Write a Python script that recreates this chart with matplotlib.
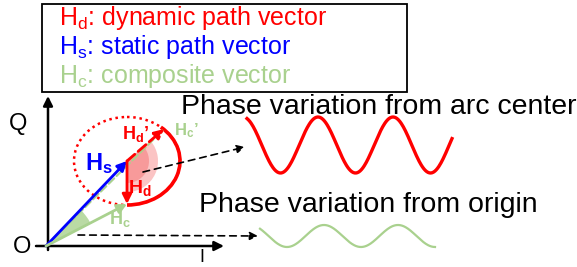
import numpy as np
import matplotlib.pyplot as plt
from matplotlib.patches import Ellipse, Arc, Wedge, Rectangle

plt.rcParams.update({
    'font.family': ['Liberation Sans', 'DejaVu Sans'],
    'mathtext.fontset': 'custom',
    'mathtext.rm': 'Liberation Sans',
    'mathtext.it': 'Liberation Sans',
    'mathtext.bf': 'Liberation Sans:bold',
})

RED = '#ff0000'
BLUE = '#0000ff'
GREEN = '#a9d18e'

# key points of the diagram (pixel space, y down)
origin = (46, 246)
arc_center = (127, 161)
hd_end = (127, 204)
hd2_end = (164, 129)
circle_size = (106, 88)

# legend lines
legend_labels = [r'H$_\mathrm{d}$: dynamic path vector',
                 r'H$_\mathrm{s}$: static path vector',
                 r'H$_\mathrm{c}$: composite vector']
legend_colors = [RED, BLUE, GREEN]

# sketch waves: start, end, period, amplitude, centre line, position of a peak
red_wave = dict(x0=247, x1=452, period=75, amp=28, yc=145, peak=243)
green_wave = dict(x0=260, x1=435, period=74, amp=11, yc=236, peak=250)

fig = plt.figure(figsize=(5.77, 2.67), dpi=100)
ax = fig.add_axes([0, 0, 1, 1])
ax.set_xlim(0, 577)
ax.set_ylim(267, 0)
ax.axis('off')


def arrow(p0, p1, color, lw=2, ls='-', scale=14):
    ax.annotate('', xy=p1, xytext=p0,
                arrowprops=dict(arrowstyle='-|>', color=color, lw=lw, linestyle=ls,
                                shrinkA=0, shrinkB=0, mutation_scale=scale))


# legend box
ax.add_patch(Rectangle((42, 4), 365, 88, fill=False, ec='black', lw=1.3))
for i, (lab, col) in enumerate(zip(legend_labels, legend_colors)):
    ax.text(59, 18 + 29 * i, lab, color=col, fontsize=18, va='center', ha='left')

# I/Q axes
arrow((48, 250), (48, 96), 'black', lw=1.8)
arrow((36, 246), (224, 246), 'black', lw=1.8)
ax.text(18, 124, 'Q', fontsize=17, ha='center', va='center')
ax.text(22, 247, 'O', fontsize=17, ha='center', va='center')
ax.text(202, 249, 'I', fontsize=13, ha='center', va='top')

# angle wedges
def ang(p, q):
    return np.degrees(np.arctan2(q[1] - p[1], q[0] - p[0]))

ax.add_patch(Wedge(origin, 50, ang(origin, arc_center), ang(origin, hd_end),
                   fc=GREEN, ec='none', alpha=0.8))
ax.add_patch(Wedge(arc_center, 31, ang(arc_center, hd2_end), ang(arc_center, hd_end),
                   fc='#fbc4c4', ec='none'))
ax.add_patch(Wedge(arc_center, 22, ang(arc_center, hd2_end), ang(arc_center, hd_end),
                   fc='#f79a9a', ec='none'))

# circle of dynamic path
ax.add_patch(Ellipse(arc_center, *circle_size, fill=False, ec=RED, lw=1.8, ls=(0, (1, 1.5))))
ax.add_patch(Arc(arc_center, *circle_size, theta1=-45, theta2=90, color=RED, lw=2.6))

# vectors
arrow(origin, hd2_end, GREEN, lw=1.5, ls='--', scale=1)
arrow(origin, arc_center, BLUE, lw=2)
arrow(origin, hd_end, GREEN, lw=2)
arrow(arc_center, hd_end, RED, lw=2)
arrow(arc_center, hd2_end, RED, lw=2, ls='--')

ax.text(99, 164, r'$\mathbf{H_s}$', color=BLUE, fontsize=17, ha='center', va='center')
ax.text(140, 188, r'$\mathbf{H_d}$', color=RED, fontsize=14, ha='center', va='center')
ax.text(136, 134, r'$\mathbf{H_d}$’', color=RED, fontsize=13, fontweight='bold', ha='center', va='center')
ax.text(186, 131, r'$\mathbf{H_c}$’', color=GREEN, fontsize=12, fontweight='bold', ha='center', va='center')
ax.text(120, 219, r'$\mathbf{H_c}$', color=GREEN, fontsize=13, ha='center', va='center')

# dashed projection arrows
arrow((143, 172), (245, 147), 'black', lw=1.2, ls=(0, (4, 3)), scale=12)
arrow((78, 235), (258, 236), 'black', lw=1.2, ls=(0, (4, 3)), scale=12)

# phase waves
for w, col, lw in [(red_wave, RED, 2.4), (green_wave, GREEN, 1.6)]:
    x = np.linspace(w['x0'], w['x1'], 300)
    y = w['yc'] - w['amp'] * np.cos(2 * np.pi * (x - w['peak']) / w['period'])
    ax.plot(x, y, color=col, lw=lw)

ax.text(181, 107, 'Phase variation from arc center', fontsize=20.5, ha='left', va='center')
ax.text(199, 205, 'Phase variation from origin', fontsize=20.5, ha='left', va='center')

fig.savefig('out.png', dpi=100)
